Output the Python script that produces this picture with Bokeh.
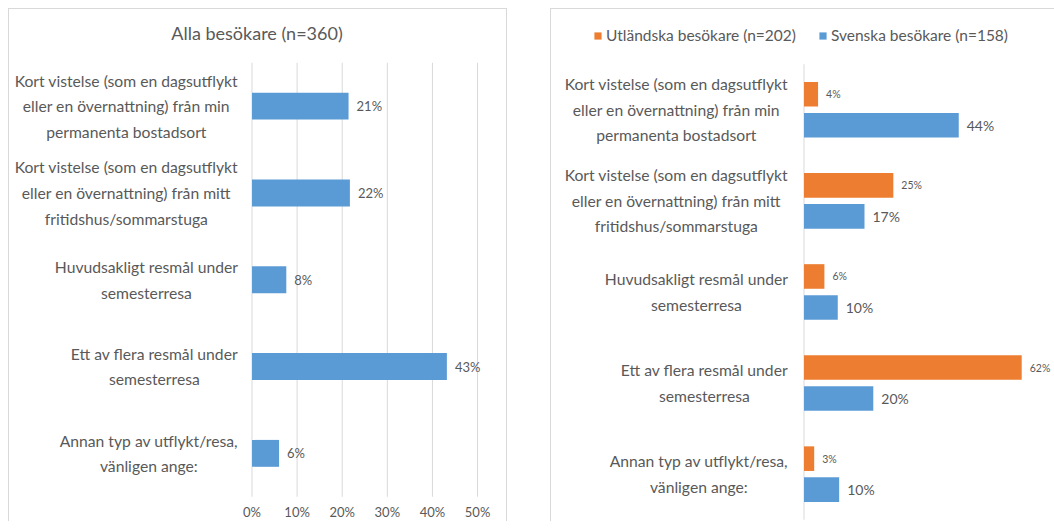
from bokeh.plotting import figure
from bokeh.models import (ColumnDataSource, LabelSet, Label, Range1d, Legend, LegendItem, Spacer)
from bokeh.layouts import row
from bokeh.core.properties import value
from bokeh.embed import file_html
from bokeh.resources import INLINE

# ---------------- data ----------------
categories = [
    "Kort vistelse (som en dagsutflykt\neller en övernattning) från min\npermanenta bostadsort",
    "Kort vistelse (som en dagsutflykt\neller en övernattning) från mitt\nfritidshus/sommarstuga",
    "Huvudsakligt resmål under\nsemesterresa",
    "Ett av flera resmål under\nsemesterresa",
    "Annan typ av utflykt/resa,\nvänligen ange:",
]
alla = [21.4, 21.7, 7.6, 43.2, 6.0]          # Alla besökare (n=360), %
utlandska = [4.0, 25.4, 5.8, 61.9, 2.9]      # Utländska besökare (n=202), %
svenska = [44.0, 17.2, 9.6, 19.7, 10.0]      # Svenska besökare (n=158), %
x_ticks = [0, 10, 20, 30, 40, 50]
title_left = "Alla besökare (n=360)"
series_names = ["Utländska besökare (n=202)", "Svenska besökare (n=158)"]

# ---------------- style ----------------
BLUE = "#5B9BD5"
ORANGE = "#ED7D31"
TEXT = "#595959"
GRID = "#D9D9D9"
FONT = "Lato"
CAT_SIZE = "15.7px"

n = len(categories)
ypos = [n - 1 - i for i in range(n)]
band_lo, band_hi = -0.5, n - 0.5

def pct(vals):
    return [f"{v:.0f}%" for v in vals]

def add_category_labels(p, x_off):
    for c, yy in zip(categories, ypos):
        p.add_layout(Label(x=0, y=yy, x_offset=x_off, text=c,
                           anchor="center_right", text_align="center", text_baseline="middle",
                           text_color=TEXT, text_font=FONT, text_font_size=CAT_SIZE,
                           text_line_height=1.42))

# ---------------- left chart ----------------
L_PX = 4.52
src_all = ColumnDataSource(dict(y=ypos, v=alla, lbl=pct(alla)))
src_grid = ColumnDataSource(dict(x=x_ticks, y0=[band_lo] * len(x_ticks),
                                 y1=[band_hi] * len(x_ticks), lbl=pct(x_ticks)))

p1 = figure(width=499, height=513,
            x_range=Range1d(-242 / L_PX, 256 / L_PX), y_range=Range1d(-0.785, 5.102),
            output_backend="svg", toolbar_location=None,
            x_axis_location=None, y_axis_location=None,
            min_border_left=1, min_border_right=1, min_border_top=1, min_border_bottom=1)
p1.margin = (8, 0, 0, 8)
p1.outline_line_color = None
p1.grid.grid_line_color = None

# vertical gridlines and percentage tick labels at the x ticks
p1.segment(x0="x", x1="x", y0="y0", y1="y1", source=src_grid, line_color=GRID, line_width=1)
p1.add_layout(LabelSet(x="x", y="y0", text="lbl", y_offset=-15, source=src_grid,
                       text_align="center", text_baseline="middle", text_color=TEXT,
                       text_font=value(FONT), text_font_size="13px"))

p1.hbar(y="y", left=0, right="v", height=0.31, fill_color=BLUE, line_color=None, source=src_all)

p1.add_layout(LabelSet(x="v", y="y", text="lbl", x_offset=8, source=src_all,
                       text_baseline="middle", text_color=TEXT,
                       text_font=value(FONT), text_font_size="13px"))
add_category_labels(p1, -14)

p1.add_layout(Label(x=0, y=band_hi, x_offset=5, y_offset=30, text=title_left,
                    text_align="center", text_baseline="middle", text_color=TEXT,
                    text_font=FONT, text_font_size="18px"))

p1.styles = {"border-top": f"1px solid {GRID}", "border-left": f"1px solid {GRID}",
             "border-right": f"1px solid {GRID}"}

# ---------------- right chart ----------------
R_PX = 3.51
off = 0.17
src_u = ColumnDataSource(dict(y=[v + off for v in ypos], v=utlandska, lbl=pct(utlandska)))
src_s = ColumnDataSource(dict(y=[v - off for v in ypos], v=svenska, lbl=pct(svenska)))

p2 = figure(width=504, height=513,
            x_range=Range1d(-251 / R_PX, 250 / R_PX), y_range=Range1d(-0.52, 5.09),
            output_backend="svg", toolbar_location=None,
            x_axis_location=None, y_axis_location=None,
            min_border_left=1, min_border_right=1, min_border_top=1, min_border_bottom=1)
p2.margin = (8, 0, 0, 0)
p2.outline_line_color = None
p2.grid.grid_line_color = None

p2.segment(x0=[0], x1=[0], y0=[band_lo], y1=[band_hi], line_color=GRID, line_width=1)
r_u = p2.hbar(y="y", left=0, right="v", height=0.27, fill_color=ORANGE, line_color=None, source=src_u)
r_s = p2.hbar(y="y", left=0, right="v", height=0.27, fill_color=BLUE, line_color=None, source=src_s)

p2.add_layout(LabelSet(x="v", y="y", text="lbl", x_offset=8, source=src_u,
                       text_baseline="middle", text_color=TEXT,
                       text_font=value(FONT), text_font_size="10.5px"))
p2.add_layout(LabelSet(x="v", y="y", text="lbl", x_offset=8, source=src_s,
                       text_baseline="middle", text_color=TEXT,
                       text_font=value(FONT), text_font_size="14px"))
add_category_labels(p2, -16)

legend = Legend(items=[LegendItem(label=series_names[0], renderers=[r_u]),
                       LegendItem(label=series_names[1], renderers=[r_s])],
                location=(41, 477), orientation="horizontal",
                glyph_width=9, glyph_height=9, label_height=16, label_standoff=4,
                spacing=22, padding=0, margin=0, border_line_color=None,
                background_fill_alpha=0, label_text_color=TEXT, label_text_font=FONT,
                label_text_font_size="15.5px")
p2.add_layout(legend)

p2.styles = {"border-top": f"1px solid {GRID}", "border-left": f"1px solid {GRID}"}

layout = row(p1, Spacer(width=43), p2)
open("out.html", "w").write(file_html(layout, INLINE))
